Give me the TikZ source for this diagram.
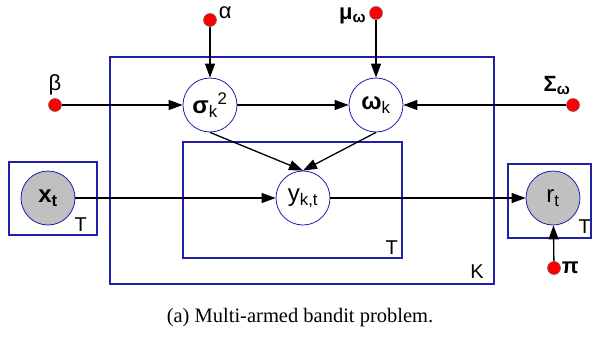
\documentclass[tikz,border=0pt]{standalone}
\usepackage{fontspec}
\setmainfont{Liberation Sans}
\newfontfamily\capfont{Liberation Serif}
\usepackage{xcolor}
\usetikzlibrary{arrows.meta,positioning}
\definecolor{PlateBlue}{HTML}{2020A8}
\definecolor{ObsGray}{HTML}{C0C0C0}
\definecolor{HyperRed}{HTML}{FF0000}

\begin{document}
\begin{tikzpicture}[x=1pt, y=-1pt,
    var/.style={circle, draw=PlateBlue, line width=0.8pt, minimum size=54pt,
      inner sep=0pt, font=\fontsize{24}{28}\selectfont},
    obs/.style={var, fill=ObsGray},
    hyper/.style={circle, fill=HyperRed, draw=black!60, line width=0.5pt,
      minimum size=13pt, inner sep=0pt},
    plate/.style={draw=PlateBlue, line width=1.6pt},
    lbl/.style={font=\fontsize{22}{26}\selectfont, inner sep=1pt},
    pl/.style={font=\fontsize{20}{24}\selectfont, inner sep=1pt, anchor=south east},
    arr/.style={-{Triangle[length=14pt, width=10pt]}, line width=1.3pt}
  ]
    \useasboundingbox (0,0) rectangle (593,337);
    % plates
    \draw[plate] (110,57) rectangle (494,284);
    \draw[plate] (183,142) rectangle (402,258);
    \draw[plate] (9,162) rectangle (97,235);
    \draw[plate] (508,164) rectangle (591,238);
    \node[pl] (plK) at (485,280) {K};
    \node[pl] (plT) at (399,256) {T};
    \node[pl] (plX) at (88,233) {T};
    \node[pl] (plR) at (592,235) {T};
    % variables
    \node[var] (sig) at (210,105) {\textbf{σ}\textsubscript{k}\textsuperscript{2}};
    \node[var] (om) at (376,105) {\textbf{ω}\textsubscript{k}};
    \node[var] (ykt) at (303,198) {y\textsubscript{k,t}};
    \node[obs] (xt) at (48,198) {\textbf{x\textsubscript{t}}};
    \node[obs] (rt) at (553,198) {r\textsubscript{t}};
    % hyperparameters
    \node[hyper] (al) at (210,20) {};
    \node[lbl, right=1pt of al, yshift=7pt] (alT) {α};
    \node[hyper] (be) at (55,105) {};
    \node[lbl, above=2pt of be] (beT) {β};
    \node[hyper] (mu) at (376,13) {};
    \node[lbl, left=2pt of mu, yshift=-3pt] (muT) {\textbf{μ\textsubscript{ω}}};
    \node[hyper] (Sg) at (573,105) {};
    \node[lbl, above=2pt of Sg, xshift=-16pt] (SgT) {\textbf{Σ\textsubscript{ω}}};
    \node[hyper] (pi) at (554,268) {};
    \node[lbl, right=0pt of pi] (piT) {\textbf{π}};
    % edges
    \draw[arr] (al) -- (sig);
    \draw[arr] (be) -- (sig);
    \draw[arr] (mu) -- (om);
    \draw[arr] (sig) -- (om);
    \draw[arr] (Sg) -- (om);
    \draw[arr] (sig.south) -- (ykt.north);
    \draw[arr] (om.south) -- (ykt.north);
    \draw[arr] (xt) -- (ykt);
    \draw[arr] (ykt) -- (rt);
    \draw[arr] (pi) -- (rt);
    % caption
    \node[font=\capfont\fontsize{20.5}{24}\selectfont] (cap) at (300,318)
      {(a) Multi-armed bandit problem.};
  \end{tikzpicture}
\end{document}
